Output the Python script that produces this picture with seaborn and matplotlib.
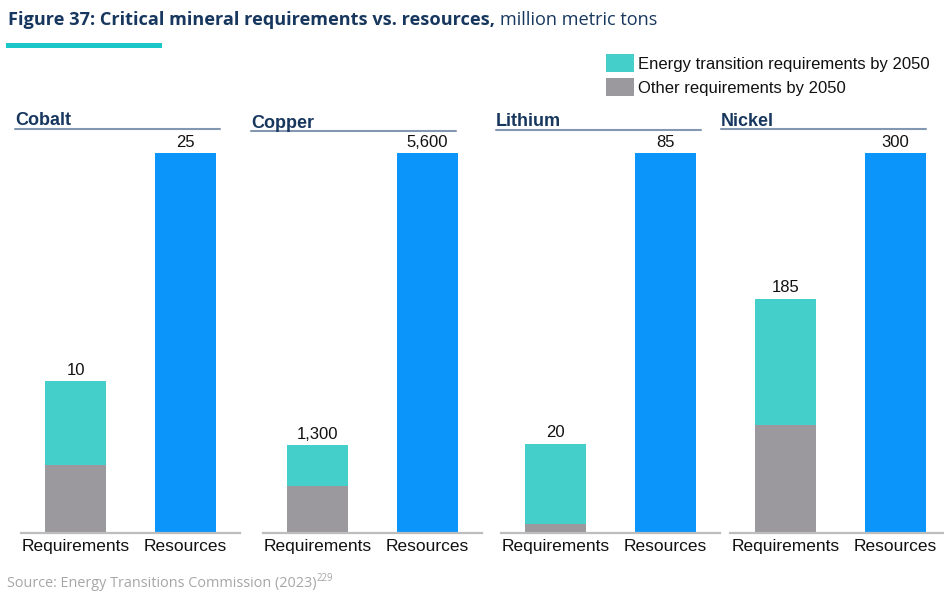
import matplotlib
matplotlib.use('Agg')
import matplotlib.pyplot as plt
import seaborn as sns
import pandas as pd
from matplotlib.patches import Rectangle
from matplotlib.lines import Line2D

# --- data (million metric tons) ---
minerals = ['Cobalt', 'Copper', 'Lithium', 'Nickel']
other_req = [4.5, 700, 2, 85]
energy_req = [5.5, 600, 18, 100]
resources = [25, 5600, 85, 300]
categories = ['Requirements', 'Resources']

legend_labels = ['Energy transition requirements by 2050', 'Other requirements by 2050']

TEAL = '#44CFCB'
GREY = '#9C999E'
BLUE = '#0B95FA'
NAVY = '#17375E'

sns.set_theme(style='white')
plt.rcParams['font.family'] = ['Liberation Sans', 'DejaVu Sans']

W, H = 945, 596
fig = plt.figure(figsize=(W / 100, H / 100), dpi=100)

def fx(px):
    return px / W

def fy(py):
    return 1 - py / H

# layout in pixels
bar_left_px = [20.5, 262.5, 500.5, 730.5]
header_x_px = [15, 251, 496, 721]
header_y_px = [128.5, 131, 130, 129]
base_px, top_px = 533, 153

for i, name in enumerate(minerals):
    total = other_req[i] + energy_req[i]
    df = pd.DataFrame({'category': categories, 'value': [total, resources[i]]})
    ax = fig.add_axes([fx(bar_left_px[i]), fy(base_px), fx(220), (base_px - top_px) / H])

    sns.barplot(data=df, x='category', y='value', hue='category', order=categories,
                palette=[TEAL, BLUE], width=0.56, saturation=1, legend=False,
                linewidth=0, ax=ax)
    sns.barplot(data=df.iloc[:1].assign(value=other_req[i]), x='category', y='value',
                order=categories, color=GREY, width=0.56, saturation=1, linewidth=0, ax=ax)

    ax.set_xlim(-0.5, 1.5)
    ax.set_ylim(0, resources[i])
    ax.set_xlabel('')
    ax.set_ylabel('')
    ax.set_yticks([])
    for s in ['top', 'left', 'right']:
        ax.spines[s].set_visible(False)
    ax.spines['bottom'].set_color('#BDBDBD')
    ax.spines['bottom'].set_linewidth(1.6)
    ax.tick_params(axis='x', length=0, pad=4.5, labelsize=12.5, colors='#111111')

    for xpos, val in zip([0, 1], [total, resources[i]]):
        ax.annotate(f'{val:,.0f}', (xpos, val), xytext=(0, 4.5), textcoords='offset points',
                    ha='center', va='baseline', fontsize=12, color='#111111',
                    annotation_clip=False)

    # panel header
    fig.text(fx(header_x_px[i]), fy(header_y_px[i] - 3.5), name, fontsize=13,
             fontweight='bold', color=NAVY, ha='left', va='baseline')
    fig.add_artist(Line2D([fx(header_x_px[i]), fx(header_x_px[i] + 205)],
                          [fy(header_y_px[i]), fy(header_y_px[i])],
                          color='#8497B0', lw=1.5))

# legend
for j, (lab, col) in enumerate(zip(legend_labels, [TEAL, GREY])):
    y0 = 54 + j * 24
    fig.add_artist(Rectangle((fx(606), fy(y0 + 18)), fx(28), 18 / H, color=col, lw=0))
    fig.text(fx(638), fy(y0 + 9), lab, fontsize=12, color='#111111', ha='left', va='center_baseline')

# title
renderer = fig.canvas.get_renderer()
t1 = fig.text(fx(8), fy(25), 'Figure 37: Critical mineral requirements vs. resources,',
              fontsize=13.1, fontweight='bold', color=NAVY, family='Open Sans', va='baseline')
bb = t1.get_window_extent(renderer)
fig.text((bb.x1 + 5) / W, fy(25), 'million metric tons', fontsize=13.1, color=NAVY,
         family='Open Sans', va='baseline')
fig.add_artist(Rectangle((fx(6), fy(48)), fx(156), 5 / H, color='#1CC7C9', lw=0))

# source
s1 = fig.text(fx(7), fy(587), 'Source: Energy Transitions Commission (2023)', fontsize=10.4,
              color='#A6A6A6', family='Open Sans', va='baseline')
bb = s1.get_window_extent(renderer)
fig.text(bb.x1 / W, fy(581), '229', fontsize=7, color='#A6A6A6', family='Open Sans', va='baseline')

fig.savefig('out.png', dpi=100)
